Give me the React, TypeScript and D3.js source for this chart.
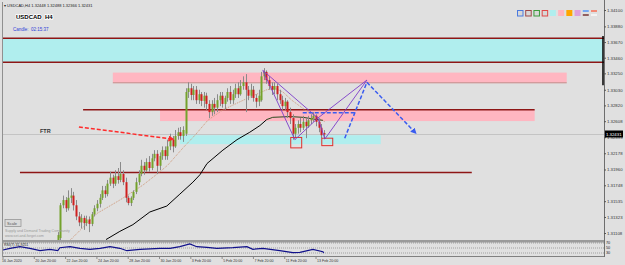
import React, { useRef, useEffect } from 'react'
import * as d3 from 'd3'

const W = 625
const H = 265

const chartTitle = 'USDCAD,H4  1.32448 1.32488 1.32366 1.32431'
const symbolLabel = 'USDCAD  H4'
const candleTimer = 'Candle:  02:15:37'
const lastPrice = 1.32431
const lastPriceText = '1.32431'
const rsiTitle = 'RSI(7) 31.9251'

// H4 bars as [open, high, low, close]. bar 0 = 16 Jan, earlier bars sit below the visible range
const firstBar = 21
const candles = [
  [1.3088, 1.3112, 1.3081, 1.3108], [1.3104, 1.3151, 1.3101, 1.3148], [1.3148, 1.3161, 1.3144, 1.3155],
  [1.3155, 1.3159, 1.3139, 1.3144], [1.3144, 1.3168, 1.3141, 1.3158], [1.3158, 1.3171, 1.3151, 1.3161],
  [1.3161, 1.3166, 1.3141, 1.3148], [1.3148, 1.3155, 1.3128, 1.3133], [1.3133, 1.3139, 1.3120, 1.3125],
  [1.3125, 1.3136, 1.3117, 1.3131], [1.3131, 1.3134, 1.3115, 1.3124], [1.3124, 1.3134, 1.3120, 1.3129],
  [1.3129, 1.3133, 1.3112, 1.3123], [1.3123, 1.3139, 1.3120, 1.3136], [1.3136, 1.3148, 1.3133, 1.3144],
  [1.3144, 1.3155, 1.3140, 1.3150], [1.3150, 1.3163, 1.3145, 1.3158], [1.3158, 1.3174, 1.3155, 1.3168],
  [1.3168, 1.3174, 1.3158, 1.3163], [1.3163, 1.3182, 1.3160, 1.3177], [1.3177, 1.3193, 1.3174, 1.3185],
  [1.3185, 1.3189, 1.3171, 1.3177], [1.3177, 1.3195, 1.3174, 1.3187], [1.3187, 1.3198, 1.3177, 1.3182],
  [1.3182, 1.3206, 1.3179, 1.3190], [1.3190, 1.3195, 1.3175, 1.3179], [1.3179, 1.3185, 1.3152, 1.3158],
  [1.3158, 1.3161, 1.3148, 1.3151], [1.3151, 1.3160, 1.3147, 1.3158], [1.3158, 1.3168, 1.3155, 1.3166],
  [1.3166, 1.3185, 1.3163, 1.3179], [1.3179, 1.3195, 1.3175, 1.3190], [1.3190, 1.3209, 1.3187, 1.3201],
  [1.3201, 1.3206, 1.3189, 1.3195], [1.3195, 1.3211, 1.3193, 1.3206], [1.3206, 1.3214, 1.3193, 1.3198],
  [1.3198, 1.3217, 1.3195, 1.3211], [1.3211, 1.3222, 1.3207, 1.3217], [1.3217, 1.3222, 1.3190, 1.3201],
  [1.3201, 1.3219, 1.3195, 1.3214], [1.3214, 1.3227, 1.3209, 1.3222], [1.3222, 1.3227, 1.3209, 1.3214],
  [1.3214, 1.3236, 1.3209, 1.3227], [1.3227, 1.3244, 1.3222, 1.3236], [1.3236, 1.3241, 1.3219, 1.3227],
  [1.3227, 1.3249, 1.3225, 1.3241], [1.3241, 1.3252, 1.3236, 1.3246], [1.3246, 1.3253, 1.3236, 1.3241],
  [1.3241, 1.3254, 1.3233, 1.3249], [1.3244, 1.3305, 1.3241, 1.3300], [1.3300, 1.3313, 1.3292, 1.3305],
  [1.3305, 1.3311, 1.3289, 1.3296], [1.3296, 1.3308, 1.3289, 1.3303], [1.3303, 1.3308, 1.3284, 1.3289],
  [1.3289, 1.3303, 1.3284, 1.3297], [1.3297, 1.3300, 1.3281, 1.3288], [1.3288, 1.3300, 1.3279, 1.3295],
  [1.3295, 1.3299, 1.3276, 1.3284], [1.3284, 1.3289, 1.3265, 1.3273], [1.3273, 1.3289, 1.3268, 1.3284],
  [1.3284, 1.3292, 1.3270, 1.3279], [1.3279, 1.3297, 1.3273, 1.3289], [1.3289, 1.3300, 1.3281, 1.3295],
  [1.3295, 1.3300, 1.3279, 1.3284], [1.3284, 1.3295, 1.3276, 1.3292], [1.3292, 1.3305, 1.3287, 1.3300],
  [1.3300, 1.3308, 1.3284, 1.3289], [1.3289, 1.3303, 1.3284, 1.3297], [1.3297, 1.3311, 1.3292, 1.3305],
  [1.3305, 1.3313, 1.3292, 1.3297], [1.3297, 1.3316, 1.3295, 1.3308], [1.3308, 1.3321, 1.3303, 1.3313],
  [1.3313, 1.3324, 1.3273, 1.3303], [1.3303, 1.3308, 1.3289, 1.3295], [1.3295, 1.3311, 1.3292, 1.3303],
  [1.3303, 1.3308, 1.3287, 1.3292], [1.3292, 1.3297, 1.3279, 1.3287], [1.3287, 1.3303, 1.3281, 1.3295],
  [1.3289, 1.3327, 1.3287, 1.3321], [1.3321, 1.3332, 1.3316, 1.3327], [1.3327, 1.3329, 1.3311, 1.3316],
  [1.3316, 1.3321, 1.3303, 1.3308], [1.3308, 1.3313, 1.3296, 1.3303], [1.3303, 1.3313, 1.3297, 1.3308],
  [1.3308, 1.3311, 1.3289, 1.3297], [1.3297, 1.3303, 1.3284, 1.3289], [1.3289, 1.3295, 1.3276, 1.3281],
  [1.3281, 1.3292, 1.3276, 1.3287], [1.3287, 1.3289, 1.3265, 1.3273], [1.3273, 1.3279, 1.3257, 1.3265],
  [1.3265, 1.3270, 1.3236, 1.3244], [1.3244, 1.3257, 1.3238, 1.3252], [1.3252, 1.3262, 1.3244, 1.3257],
  [1.3257, 1.3265, 1.3246, 1.3252], [1.3252, 1.3268, 1.3249, 1.3260], [1.3260, 1.3265, 1.3238, 1.3254],
  [1.3254, 1.3268, 1.3252, 1.3262], [1.3262, 1.3270, 1.3257, 1.3265], [1.3265, 1.3273, 1.3260, 1.3268],
  [1.3268, 1.3270, 1.3254, 1.3260], [1.3260, 1.3265, 1.3246, 1.3252], [1.3252, 1.3257, 1.3238, 1.3242],
  [1.32448, 1.32488, 1.32366, 1.32431],
]

const timeLabels = ['16 Jan 2020', '20 Jan 20:00', '22 Jan 20:00', '24 Jan 20:00', '28 Jan 20:00', '30 Jan 20:00',
  '3 Feb 20:00', '5 Feb 20:00', '7 Feb 20:00', '11 Feb 20:00', '13 Feb 20:00']
const timeLabelBars = [0, 12, 24, 36, 48, 60, 72, 84, 96, 108, 120]

const priceTicks = [1.34100, 1.33880, 1.33670, 1.33460, 1.33250, 1.33030, 1.32820, 1.32608, 1.32393,
  1.32178, 1.31960, 1.31748, 1.31535, 1.31323, 1.31108]

// moving averages, [bar, price]
const slowMa = [[39.5, 1.3102], [44.8, 1.3113], [49.8, 1.3122], [56.3, 1.3139], [62.8, 1.3147], [67.8, 1.3163],
  [72.8, 1.3179], [75.5, 1.3189], [78.2, 1.3204], [84.3, 1.3222], [89.7, 1.3236], [94.6, 1.3246], [98.5, 1.3255], [101.1, 1.3263]]
const slowMaTail = [[101.1, 1.3263], [103.4, 1.3266], [110, 1.3267], [115, 1.3266], [120.3, 1.3263], [122.6, 1.3262]]
const fastMa = [[25.7, 1.3101], [36, 1.3137], [44.8, 1.3155], [53.6, 1.3175], [60.2, 1.3193], [63.2, 1.3202],
  [69, 1.3225], [73.6, 1.3242], [78.5, 1.3262], [84.3, 1.3276], [89.7, 1.3285], [94.6, 1.3293], [101.1, 1.3303],
  [104.2, 1.3305], [107.3, 1.3300], [110.7, 1.3289], [115.7, 1.3276], [123.4, 1.3260]]

const rsiValues = [[0, 42], [2.7, 48.8], [6.5, 55.2], [10.3, 48.8], [14.2, 39.2], [18, 44.8], [21, 39.2], [21.8, 51.2],
  [25.7, 55.2], [29.5, 48.8], [33.3, 44.8], [37.2, 48.8], [41, 55.2], [44.8, 48.8], [47.5, 39.2], [52.5, 44.8],
  [60.2, 48.8], [64, 48.8], [67.8, 55.2], [71.6, 66], [74.3, 55.2], [78.2, 52.8], [82, 48.8], [88.1, 51.2],
  [93.5, 55.2], [95.8, 44.8], [99.6, 48.8], [106.1, 39.2], [111.1, 31.2], [113.8, 32.8], [118.8, 44.8],
  [122.6, 35.2], [123, 31.2]]
const rsiLevels = [70, 50, 30]

// zones: [fromBar, toBar, topPrice, bottomPrice]
const supplyZone = [0, 230, 1.3372, 1.3340]
const pinkZones = [[42.1, 216.1, 1.3326, 1.3313], [60.2, 203.8, 1.3276, 1.3261]]
const demandZone = [67.8, 144.8, 1.3242, 1.3230]
// [fromBar, toBar, price]
const levelLines = [[30.7, 203.8, 1.3276], [6.5, 179.7, 1.3192]]
const ftrArrow = [[29.1, 1.3253], [64.8, 1.3237]]
const markBoxes = [[110.3, 114.5, 1.3239, 1.3225], [122.2, 126.4, 1.3238, 1.3228]]

const harmonic = { X: [99.6, 1.3329], A: [111.9, 1.3236], B: [120.7, 1.3265], C: [123.4, 1.3237], D: [139.5, 1.3316] }
const harmonicLegs = [['X', 'A'], ['A', 'B'], ['X', 'B'], ['B', 'C'], ['C', 'D'], ['B', 'D']]
const projections = [
  [[114.9, 1.3272], [134.9, 1.3272]],
  [[131, 1.3238], [139.5, 1.3313]],
  [[139.5, 1.3313], [157.9, 1.3246]],
]

const swatches = ['#4a7adf', '#a04848', '#3c9a3c', '#e04848', '#b0eeee', '#ffb6c1', '#ffa500', '#dda0dd', 'line1', 'line2']

const font = "'Liberation Sans', Arial, sans-serif"

const App = () => {
  const svgRef = useRef<SVGSVGElement>(null)

  useEffect(() => {
    const svg = d3.select(svgRef.current)
    svg.selectAll('*').remove()

    const plot = { left: 3, right: 604, top: 3, bottom: 240 }
    const x = d3.scaleLinear().domain([0, 230]).range([3, 603])
    const y = d3.scaleLinear().domain([priceTicks[priceTicks.length - 1], priceTicks[0]]).range([233, 10])
    const yRsi = d3.scaleLinear().domain([30, 70]).range([253, 243])

    svg.append('rect').attr('width', W).attr('height', H).attr('fill', '#e0e0e0')

    svg.append('defs').append('clipPath').attr('id', 'plotclip')
      .append('rect').attr('x', plot.left).attr('y', plot.top)
      .attr('width', plot.right - plot.left).attr('height', plot.bottom - plot.top)

    const defs = svg.select('defs')
    const mk = (id: string, color: string) => defs.append('marker')
      .attr('id', id).attr('viewBox', '0 -5 10 10').attr('refX', 6).attr('refY', 0)
      .attr('orient', 'auto').attr('markerWidth', 4).attr('markerHeight', 4)
      .append('path').attr('d', 'M0,-5L10,0L0,5').attr('fill', color)
    mk('arrowBlue', '#3a5cf0')
    mk('arrowRed', '#ff2a2a')

    const g = svg.append('g').attr('clip-path', 'url(#plotclip)')

    // zones
    g.append('rect')
      .attr('x', x(supplyZone[0])).attr('width', x(supplyZone[1]) - x(supplyZone[0]))
      .attr('y', y(supplyZone[2])).attr('height', y(supplyZone[3]) - y(supplyZone[2]))
      .attr('fill', '#b0eeee')
    ;[supplyZone[2], supplyZone[3]].forEach(p => {
      g.append('line').attr('x1', plot.left).attr('x2', plot.right)
        .attr('y1', y(p)).attr('y2', y(p)).attr('stroke', '#8e1616').attr('stroke-width', 1.5)
    })
    pinkZones.forEach(z => {
      g.append('rect').attr('x', x(z[0])).attr('width', x(z[1]) - x(z[0]))
        .attr('y', y(z[2])).attr('height', y(z[3]) - y(z[2])).attr('fill', '#ffb6c1')
    })
    g.append('line').attr('x1', x(pinkZones[0][0])).attr('x2', x(pinkZones[0][1]))
      .attr('y1', y(pinkZones[0][3]) + 0.5).attr('y2', y(pinkZones[0][3]) + 0.5)
      .attr('stroke', '#c98585').attr('stroke-width', 1)
    g.append('rect').attr('x', x(demandZone[0])).attr('width', x(demandZone[1]) - x(demandZone[0]))
      .attr('y', y(demandZone[2])).attr('height', y(demandZone[3]) - y(demandZone[2])).attr('fill', '#b0eeee')

    levelLines.forEach(l => {
      g.append('line').attr('x1', x(l[0])).attr('x2', x(l[1]))
        .attr('y1', y(l[2])).attr('y2', y(l[2])).attr('stroke', '#8e1616').attr('stroke-width', 1.5)
    })

    // current price line
    g.append('line').attr('x1', plot.left).attr('x2', plot.right)
      .attr('y1', Math.round(y(lastPrice)) + 0.5).attr('y2', Math.round(y(lastPrice)) + 0.5)
      .attr('stroke', '#c4c4c4').attr('stroke-width', 1)

    const line = d3.line<number[]>().x(d => x(d[0])).y(d => y(d[1]))

    // moving averages
    g.append('path').attr('d', line(fastMa)).attr('fill', 'none')
      .attr('stroke', '#cf9878').attr('stroke-width', 1).attr('stroke-dasharray', '1,1')
    g.append('path').attr('d', line(slowMa)).attr('fill', 'none').attr('stroke', '#000').attr('stroke-width', 1)
    g.append('path').attr('d', line(slowMaTail)).attr('fill', 'none').attr('stroke', '#2d4a1e').attr('stroke-width', 1)

    // candles
    const cg = g.append('g')
    candles.forEach((c, k) => {
      const cx = Math.round(x(firstBar + k))
      const [o, h, l, cl] = c
      cg.append('line').attr('x1', cx + 0.5).attr('x2', cx + 0.5)
        .attr('y1', y(h)).attr('y2', y(l)).attr('stroke', '#8a8a8a').attr('stroke-width', 1)
      const top = Math.min(y(o), y(cl))
      cg.append('rect').attr('x', cx - 0.5).attr('width', 2)
        .attr('y', top).attr('height', Math.max(1, Math.abs(y(o) - y(cl))))
        .attr('fill', cl >= o ? '#74a22c' : '#cf2020')
    })

    // FTR arrow
    g.append('path').attr('d', line(ftrArrow)).attr('fill', 'none')
      .attr('stroke', '#ff2a2a').attr('stroke-width', 1.5).attr('stroke-dasharray', '4,2')
      .attr('marker-end', 'url(#arrowRed)')

    // boxes
    markBoxes.forEach(b => {
      g.append('rect').attr('x', x(b[0])).attr('width', x(b[1]) - x(b[0]))
        .attr('y', y(b[2])).attr('height', y(b[3]) - y(b[2]))
        .attr('fill', 'none').attr('stroke', '#e0302c').attr('stroke-width', 1)
    })

    // harmonic pattern
    harmonicLegs.forEach(([a, b]) => {
      g.append('path').attr('d', line([harmonic[a], harmonic[b]])).attr('fill', 'none')
        .attr('stroke', '#7d3cc8').attr('stroke-width', 0.9)
    })
    projections.forEach((p, i) => {
      g.append('path').attr('d', line(p)).attr('fill', 'none')
        .attr('stroke', '#3a5cf0').attr('stroke-width', 1.5).attr('stroke-dasharray', '4,2')
        .attr('marker-end', i === projections.length - 1 ? 'url(#arrowBlue)' : null)
    })

    // texts in plot
    svg.append('text').attr('x', 40).attr('y', y(lastPrice) - 1.5).text('FTR')
      .attr('font-family', font).attr('font-size', 5.5).attr('font-weight', 'bold').attr('fill', '#333')

    svg.append('text').attr('x', 4).attr('y', 6.5).text('\u25BE ' + chartTitle)
      .attr('font-family', font).attr('font-size', 4).attr('fill', '#222')
    svg.append('text').attr('x', 16).attr('y', 18.5).text(symbolLabel)
      .attr('font-family', font).attr('font-size', 6).attr('font-weight', 'bold').attr('fill', '#000')
      .attr('stroke', '#fff').attr('stroke-width', 1.5).attr('paint-order', 'stroke').attr('xml:space', 'preserve')
    svg.append('text').attr('x', 13).attr('y', 31).text(candleTimer).attr('xml:space', 'preserve')
      .attr('font-family', font).attr('font-size', 4.5).attr('fill', '#2f3fd8')

    svg.append('rect').attr('x', 5).attr('y', 219.5).attr('width', 16).attr('height', 7)
      .attr('fill', '#dadada').attr('stroke', '#8c8c8c').attr('stroke-width', 0.7)
    svg.append('text').attr('x', 7).attr('y', 225).text('Scale')
      .attr('font-family', font).attr('font-size', 4).attr('fill', '#555')
    svg.append('text').attr('x', 5).attr('y', 232).text('Supply and Demand Trading Community')
      .attr('font-family', font).attr('font-size', 3.6).attr('fill', '#9a9a9a')
    svg.append('text').attr('x', 5).attr('y', 236.5).text('www.set-and-forget.com')
      .attr('font-family', font).attr('font-size', 3.6).attr('fill', '#9a9a9a')

    // swatches top right
    const sx = d3.scalePoint().domain(d3.range(swatches.length).map(String)).range([517, 591])
    swatches.forEach((s, i) => {
      const px = sx(String(i)) as number
      if (s === 'line1' || s === 'line2') {
        svg.append('line').attr('x1', px).attr('x2', px + 6).attr('y1', 11).attr('y2', 11)
          .attr('stroke', s === 'line1' ? '#2a80ff' : '#ff5030').attr('stroke-width', 1.2)
        svg.append('line').attr('x1', px).attr('x2', px + 6).attr('y1', 15).attr('y2', 15)
          .attr('stroke', s === 'line1' ? '#5a0a0a' : '#ffffff').attr('stroke-width', 1.2)
      } else if (i < 4) {
        svg.append('rect').attr('x', px + 0.5).attr('y', 10.5).attr('width', 5.5).attr('height', 5.5)
          .attr('fill', '#d8d8d8').attr('stroke', s).attr('stroke-width', 1)
      } else {
        svg.append('rect').attr('x', px).attr('y', 10).attr('width', 6).attr('height', 6).attr('fill', s)
      }
    })

    // RSI pane
    svg.append('rect').attr('x', plot.left).attr('y', 240).attr('width', plot.right - plot.left).attr('height', 2.5)
      .attr('fill', '#9a9a9a')
    rsiLevels.forEach(v => {
      svg.append('line').attr('x1', plot.left).attr('x2', plot.right)
        .attr('y1', yRsi(v)).attr('y2', yRsi(v)).attr('stroke', '#777').attr('stroke-width', 0.6)
        .attr('stroke-dasharray', '1,1')
      svg.append('text').attr('x', 606).attr('y', yRsi(v) + 1.4).text(String(v))
        .attr('font-family', font).attr('font-size', 3.8).attr('fill', '#222')
    })
    svg.append('path').attr('d', d3.line<number[]>().x(d => x(d[0])).y(d => yRsi(d[1]))(rsiValues))
      .attr('fill', 'none').attr('stroke', '#10108a').attr('stroke-width', 1.2)
    svg.append('text').attr('x', 4).attr('y', 245.5).text(rsiTitle)
      .attr('font-family', font).attr('font-size', 3.6).attr('fill', '#222')
    svg.append('line').attr('x1', plot.left).attr('x2', plot.right).attr('y1', 256.5).attr('y2', 256.5)
      .attr('stroke', '#808080').attr('stroke-width', 1)

    // frame + price axis
    svg.append('line').attr('x1', 2.5).attr('x2', 2.5).attr('y1', 2).attr('y2', 257)
      .attr('stroke', '#909090').attr('stroke-width', 1)
    svg.append('line').attr('x1', plot.right + 0.5).attr('x2', plot.right + 0.5).attr('y1', 0).attr('y2', 257)
      .attr('stroke', '#6e6e6e').attr('stroke-width', 1)
    svg.append('line').attr('x1', 603).attr('x2', 603).attr('y1', y(1.3375)).attr('y2', y(1.3309))
      .attr('stroke', '#000').attr('stroke-width', 1.5)

    const axisG = svg.append('g').attr('transform', `translate(${plot.right},0)`)
      .call(d3.axisRight(y).tickValues(priceTicks).tickFormat(d3.format('.5f')).tickSize(2).tickPadding(1))
    axisG.select('.domain').remove()
    axisG.selectAll('line').attr('stroke', '#555')
    axisG.selectAll('text').attr('font-family', font).attr('font-size', 4.3).attr('fill', '#333')

    svg.append('rect').attr('x', 605).attr('y', Math.round(y(lastPrice)) - 3.5).attr('width', 18).attr('height', 7)
      .attr('fill', '#000')
    svg.append('text').attr('x', 606).attr('y', Math.round(y(lastPrice)) + 1.6).text(lastPriceText)
      .attr('font-family', font).attr('font-size', 4.3).attr('fill', '#fff')

    // time axis
    timeLabels.forEach((t, i) => {
      const tx = x(timeLabelBars[i])
      svg.append('line').attr('x1', tx).attr('x2', tx).attr('y1', 257).attr('y2', 259)
        .attr('stroke', '#555').attr('stroke-width', 0.6)
      svg.append('text').attr('x', i === 0 ? 2 : tx + 1).attr('y', 262).text(t)
        .attr('font-family', font).attr('font-size', 3.6).attr('fill', '#333')
    })
  }, [])

  return (
    <svg ref={svgRef} width={W} height={H} style={{ position: 'absolute', left: 0, top: 0, display: 'block' }} />
  )
}

export default App
